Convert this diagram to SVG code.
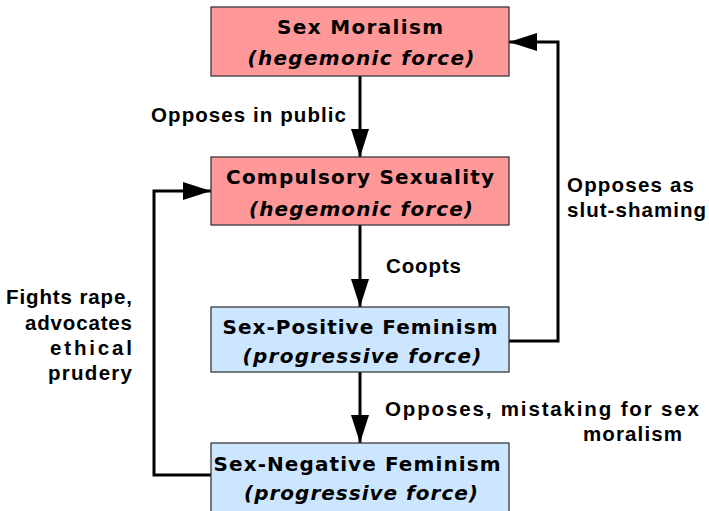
<svg xmlns="http://www.w3.org/2000/svg" width="709" height="511" viewBox="0 0 709 511">
<style>
.box{stroke:#3a3a3a;stroke-width:1.3}
.hege{fill:#ff9999}
.prog{fill:#cce6ff}
.title{font-family:"DejaVu Sans",sans-serif;font-weight:bold;font-size:20px;fill:#000;text-anchor:middle}
.sub{font-family:"DejaVu Sans",sans-serif;font-weight:bold;font-style:italic;font-size:20px;fill:#000;text-anchor:middle}
.lbl{font-family:"Liberation Sans",Arial,sans-serif;font-weight:bold;font-size:20.5px;fill:#000}
.conn{fill:none;stroke:#000;stroke-width:3}
</style>
<defs>
<marker id="ah" markerUnits="userSpaceOnUse" markerWidth="29" markerHeight="19" refX="28" refY="9" orient="auto">
<path d="M0,0 L28,9 L0,18 z" fill="#000"/>
</marker>
</defs>
<g id="connectors">
<path class="conn" d="M360,76 L360,157" marker-end="url(#ah)"/>
<path class="conn" d="M360,225 L360,307" marker-end="url(#ah)"/>
<path class="conn" d="M360,372 L360,443" marker-end="url(#ah)"/>
<path class="conn" d="M509,341 H558 V42 H509" marker-end="url(#ah)"/>
<path class="conn" d="M211,475 H154 V191 H211" marker-end="url(#ah)"/>
<text class="lbl" x="151" y="122" textLength="195" lengthAdjust="spacing">Opposes in public</text>
<text class="lbl" x="386" y="273" textLength="75" lengthAdjust="spacing">Coopts</text>
<text class="lbl" x="567" y="192" textLength="127" lengthAdjust="spacing">Opposes as</text>
<text class="lbl" x="567" y="217" textLength="139" lengthAdjust="spacing">slut-shaming</text>
<text class="lbl" x="385" y="416" textLength="314" lengthAdjust="spacing">Opposes, mistaking for sex</text>
<text class="lbl" x="583" y="441" textLength="99" lengthAdjust="spacing">moralism</text>
<g class="lbl" text-anchor="end">
<text x="132" y="304" textLength="126" lengthAdjust="spacing">Fights rape,</text>
<text x="132" y="330" textLength="107" lengthAdjust="spacing">advocates</text>
<text x="132" y="355" textLength="82" lengthAdjust="spacing">ethical</text>
<text x="132" y="380" textLength="84" lengthAdjust="spacing">prudery</text>
</g>
</g>
<g id="sex-moralism">
<rect class="box hege" x="211" y="7" width="298" height="69"/>
<text class="title" x="360" y="34" textLength="166" lengthAdjust="spacing">Sex Moralism</text>
<text class="sub" x="361" y="65" textLength="227" lengthAdjust="spacing">(hegemonic force)</text>
</g>
<g id="compulsory-sexuality">
<rect class="box hege" x="211" y="157" width="298" height="68"/>
<text class="title" x="360" y="184" textLength="268" lengthAdjust="spacing">Compulsory Sexuality</text>
<text class="sub" x="361" y="216" textLength="224" lengthAdjust="spacing">(hegemonic force)</text>
</g>
<g id="sex-positive-feminism">
<rect class="box prog" x="211" y="307" width="298" height="65"/>
<text class="title" x="360" y="334" textLength="275" lengthAdjust="spacing">Sex-Positive Feminism</text>
<text class="sub" x="362" y="363" textLength="239" lengthAdjust="spacing">(progressive force)</text>
</g>
<g id="sex-negative-feminism">
<rect class="box prog" x="211" y="443" width="298" height="72"/>
<text class="title" x="357" y="471" textLength="287" lengthAdjust="spacing">Sex-Negative Feminism</text>
<text class="sub" x="361" y="500" textLength="234" lengthAdjust="spacing">(progressive force)</text>
</g>
</svg>
